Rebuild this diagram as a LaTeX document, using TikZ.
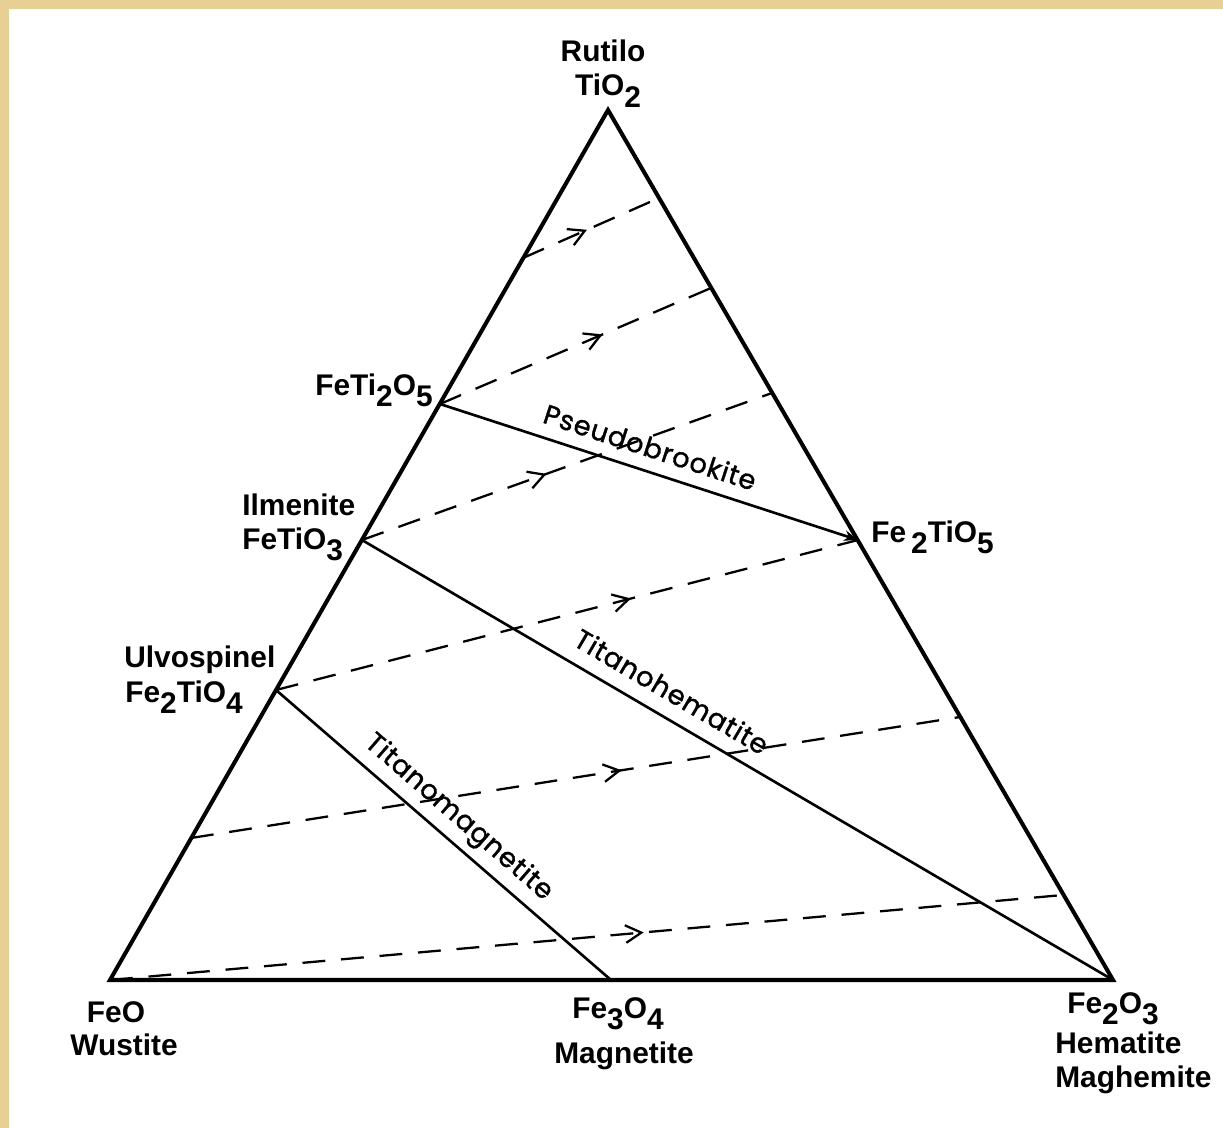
\documentclass[tikz,border=0pt]{standalone}
\usepackage{fontspec}
\setmainfont{Liberation Sans}
\newfontfamily\lblfont{Poppins}[FakeBold=1.2,LetterSpace=3]
\usetikzlibrary{arrows.meta,decorations.markings}
\definecolor{bordertan}{RGB}{232,208,148}
\newcommand{\sbs}[1]{\raisebox{-0.7ex}{#1}}
\begin{document}
\begin{tikzpicture}[x=0.02cm,y=-0.02cm,
  tri/.style={line width=2.3pt, line join=miter},
  phase/.style={line width=1.5pt},
  trend/.style={line width=1.3pt, dash pattern=on 13pt off 9pt},
  lab/.style={font=\bfseries\fontsize{17}{20}\selectfont, inner sep=0pt},
  linelab/.style={font=\lblfont\fontsize{15.5}{18}\selectfont, sloped, anchor=base},
  midarrow/.style={postaction={decorate}, decoration={markings, mark=at position #1 with {\arrow{Straight Barb[length=9pt,width=10pt,line width=1.3pt]}}}}
]
\useasboundingbox (0,0) rectangle (1223,1128);
\fill[bordertan] (0,0) rectangle (1223,1128);
\fill[white] (9,9) rectangle (1223,1128);

% vertices and points
\coordinate (T) at (608,110);
\coordinate (W) at (110,980);
\coordinate (H) at (1113,980);
\coordinate (P) at (440,404);
\coordinate (I) at (362,540);
\coordinate (U) at (276,690);
\coordinate (F) at (858,540);
\coordinate (M) at (611,980);
% dashed ends
\coordinate (a1) at (523,258); \coordinate (b1) at (659,198);
\coordinate (b2) at (711,288);
\coordinate (b3) at (772,393);
\coordinate (a5) at (191,838); \coordinate (b5) at (960,717);
\coordinate (b6) at (1063,895);

% triangle
\draw[tri] (T) -- (W) -- (H) -- cycle;

% phase lines
\draw[phase,-{Stealth[length=8pt,width=6pt]}] (P) -- node[linelab,pos=0.485,yshift=8pt] (pb) {Pseudobrookite} (F);
\draw[phase] (I) -- node[linelab,pos=0.395,yshift=9pt] (th) {Titanohematite} (H);
\draw[phase] (U) -- node[linelab,pos=0.50,yshift=9pt] (tm) {Titanomagnetite} (M);

% trend lines
\draw[trend,midarrow=0.47] (a1) -- (b1);
\draw[trend,midarrow=0.6] (P) -- (b2);
\draw[trend,midarrow=0.45] (I) -- (b3);
\draw[trend,midarrow=0.61] (U) -- (F);
\draw[trend,midarrow=0.56] (a5) -- (b5);
\draw[trend,midarrow=0.56] (W) -- (b6);

% labels
\node[lab,anchor=base] (rut) at (603,62) {Rutilo};
\node[lab,anchor=base] (tio2) at (608,96) {TiO\sbs{2}};
\node[lab,anchor=base east] (feti2o5) at (433,395) {FeTi\sbs{2}O\sbs{5}};
\node[lab,anchor=base west] (ilm) at (242,515) {Ilmenite};
\node[lab,anchor=base west] (fetio3) at (242,549) {FeTiO\sbs{3}};
\node[lab,anchor=base west] (ulv) at (124,667) {Ulvospinel};
\node[lab,anchor=base west] (fe2tio4) at (125,702) {Fe\sbs{2}TiO\sbs{4}};
\node[lab,anchor=base west] (fe2tio5) at (871,542) {Fe\,\sbs{2}TiO\sbs{5}};
\node[lab,anchor=base] (feo) at (116,1022) {FeO};
\node[lab,anchor=base] (wus) at (124,1055) {Wustite};
\node[lab,anchor=base] (fe3o4) at (618,1018) {Fe\sbs{3}O\sbs{4}};
\node[lab,anchor=base] (mag) at (624,1063) {Magnetite};
\node[lab,anchor=base west] (fe2o3) at (1067,1013) {Fe\sbs{2}O\sbs{3}};
\node[lab,anchor=base west] (hem) at (1055,1053) {Hematite};
\node[lab,anchor=base west] (maghe) at (1055,1087) {Maghemite};
\end{tikzpicture}
\end{document}
